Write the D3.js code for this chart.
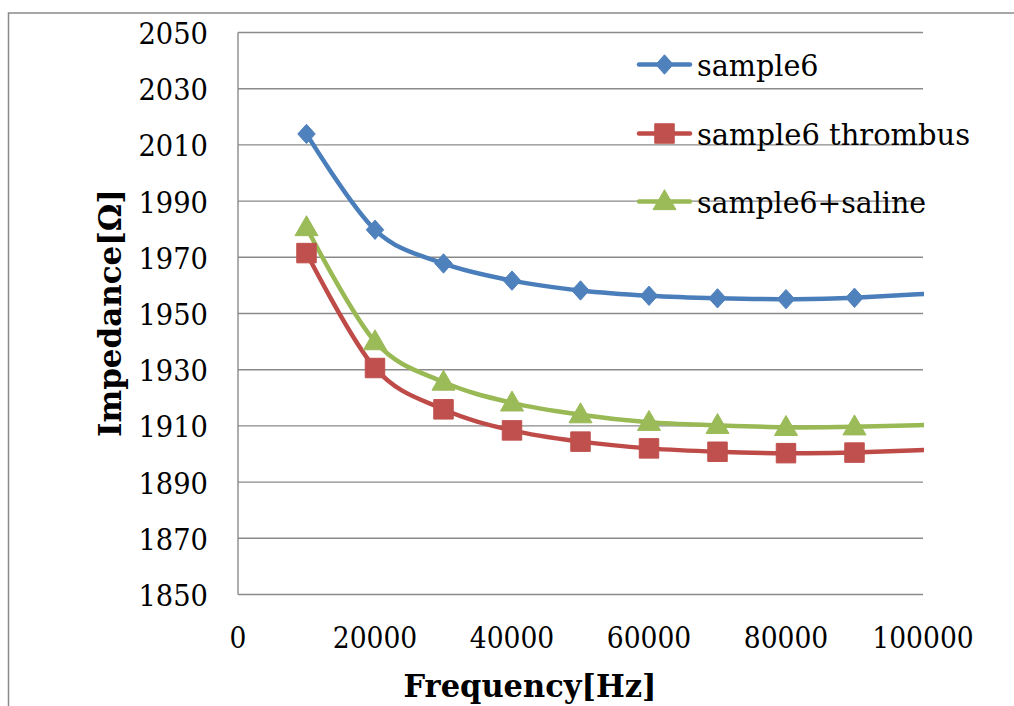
<!DOCTYPE html>
<html><head><meta charset="utf-8">
<script src="https://cdn.jsdelivr.net/npm/d3@7"></script>
<style>body{margin:0;background:#fff}svg{display:block}</style>
</head><body>
<svg id="c" width="1014" height="706"></svg>
<script>
const frequencies = [10000,20000,30000,40000,50000,60000,70000,80000,90000,110000];
const sample6 = [2013.9,1979.8,1967.8,1961.7,1958.2,1956.3,1955.4,1955.1,1955.6,1958.4];
const sample6Thrombus = [1971.5,1930.6,1915.9,1908.4,1904.4,1902.0,1900.8,1900.3,1900.5,1902.4];
const sample6Saline = [1980.6,1940.0,1925.6,1918.2,1914.0,1911.3,1910.2,1909.5,1909.7,1911.0];
const seriesNames = ["sample6","sample6 thrombus","sample6+saline"];
const yTicks = [1850,1870,1890,1910,1930,1950,1970,1990,2010,2030,2050];
const xTicks = [0,20000,40000,60000,80000,100000];

const svg = d3.select("#c");
const L=238, R=923, T=32.5, B=594.5;
const x = d3.scaleLinear().domain([0,100000]).range([L,R]);
const y = d3.scaleLinear().domain([1850,2050]).range([B,T]);
const font = "'DejaVu Serif', serif";
const grid = "#8a8a8a";

// wide diamond like Excel's marker
const wideDiamond = {draw(ctx,size){const r=Math.sqrt(size/2);ctx.moveTo(0,-r*1.05);ctx.lineTo(r*0.95,0);ctx.lineTo(0,r*1.05);ctx.lineTo(-r*0.95,0);ctx.closePath();}};

// outer chart border (extends beyond the visible area)
svg.append("rect").attr("x",8.5).attr("y",13).attr("width",1100).attr("height",800)
  .attr("fill","none").attr("stroke",grid).attr("stroke-width",1.5);

// gridlines
svg.append("g").selectAll("line").data(yTicks).join("line")
  .attr("x1",L).attr("x2",R).attr("y1",d=>y(d)).attr("y2",d=>y(d))
  .attr("stroke",grid).attr("stroke-width",1.4);
// left axis line
svg.append("line").attr("x1",L).attr("x2",L).attr("y1",T).attr("y2",B)
  .attr("stroke",grid).attr("stroke-width",1.4);

// y tick labels
svg.append("g").selectAll("text").data(yTicks).join("text")
  .attr("x",208).attr("y",d=>y(d)+11.5).attr("text-anchor","end")
  .attr("font-family",font).attr("font-size",30)
  .attr("textLength",d=>String(d).length*17.4).attr("lengthAdjust","spacingAndGlyphs")
  .text(d=>d);
// x tick labels
svg.append("g").selectAll("text").data(xTicks).join("text")
  .attr("x",d=>x(d)).attr("y",648).attr("text-anchor","middle")
  .attr("font-family",font).attr("font-size",30)
  .attr("textLength",d=>String(d).length*16.9).attr("lengthAdjust","spacingAndGlyphs")
  .text(d=>d);

// axis titles
svg.append("text").attr("x",530).attr("y",697).attr("text-anchor","middle")
  .attr("font-family",font).attr("font-size",32).attr("font-weight","bold")
  .attr("textLength",253).attr("lengthAdjust","spacingAndGlyphs").text("Frequency[Hz]");
svg.append("text").attr("transform","translate(121,313) rotate(-90)").attr("text-anchor","middle")
  .attr("font-family",font).attr("font-size",32).attr("font-weight","bold")
  .attr("textLength",248).attr("lengthAdjust","spacingAndGlyphs").text("Impedance[Ω]");

// clip
svg.append("clipPath").attr("id","clip").append("rect")
  .attr("x",L).attr("y",0).attr("width",R-L+1).attr("height",706);

const series = [
  {name:seriesNames[0], vals:sample6, line:"#4A7EBB", fill:"#4F81BD", sym:wideDiamond, size:170, dy:0},
  {name:seriesNames[1], vals:sample6Thrombus, line:"#BE4B48", fill:"#C0504D", sym:d3.symbolSquare, size:380, dy:0},
  {name:seriesNames[2], vals:sample6Saline, line:"#98B954", fill:"#9BBB59", sym:d3.symbolTriangle, size:230, dy:1.5}
];
const lineGen = d3.line().x(d=>x(d[0])).y(d=>y(d[1])).curve(d3.curveCardinal.tension(0));
const plot = svg.append("g").attr("clip-path","url(#clip)");
series.forEach(s=>{
  const pts = frequencies.map((f,i)=>[f,s.vals[i]]);
  plot.append("path").attr("d",lineGen(pts)).attr("fill","none")
    .attr("stroke",s.line).attr("stroke-width",4.5).attr("stroke-linecap","round").attr("stroke-linejoin","round");
});
series.forEach(s=>{
  const pts = frequencies.map((f,i)=>[f,s.vals[i]]).filter(p=>p[0]<=100000);
  plot.append("g").selectAll("path").data(pts).join("path")
    .attr("d",d3.symbol().type(s.sym).size(s.size))
    .attr("transform",d=>`translate(${x(d[0])},${y(d[1])+s.dy})`)
    .attr("fill",s.fill).attr("stroke",s.fill).attr("stroke-width",1);
});

// legend
const legW = [121.6,273,229];
const legBase = [76,145,213];
series.forEach((s,i)=>{
  const g = svg.append("g");
  const cy = legBase[i]-11.5;
  g.append("line").attr("x1",639).attr("x2",690).attr("y1",cy).attr("y2",cy)
    .attr("stroke",s.line).attr("stroke-width",4.5).attr("stroke-linecap","round");
  g.append("path").attr("d",d3.symbol().type(s.sym).size(s.size))
    .attr("transform",`translate(664.5,${cy+s.dy})`)
    .attr("fill",s.fill).attr("stroke",s.fill).attr("stroke-width",1);
  g.append("text").attr("x",697).attr("y",legBase[i])
    .attr("font-family",font).attr("font-size",30)
    .attr("textLength",legW[i]).attr("lengthAdjust","spacingAndGlyphs").text(s.name);
});
</script>
</body></html>
